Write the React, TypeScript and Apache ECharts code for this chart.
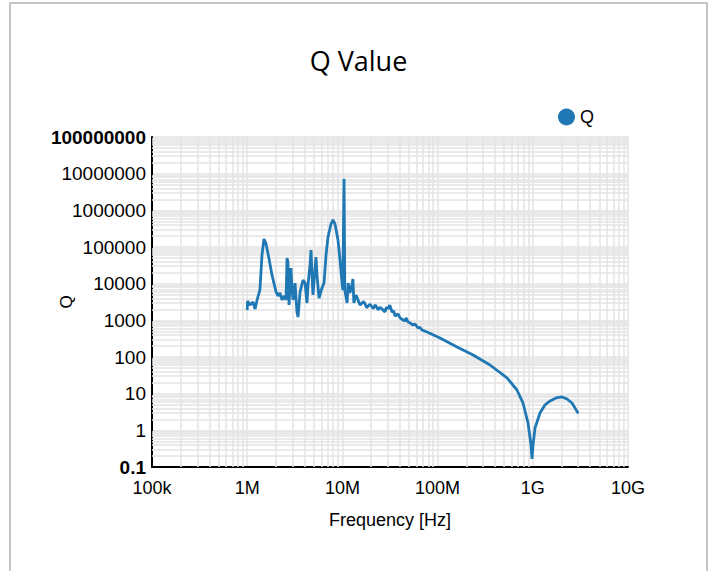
import React, { useEffect, useRef } from "react";
import * as echarts from "echarts";

// Frequency [Hz]
const freqHz: number[] = [
  1.0e6, 1.01e6, 1.07e6, 1.15e6, 1.21e6, 1.27e6, 1.36e6, 1.43e6, 1.5e6, 1.57e6,
  1.69e6, 1.82e6, 2.01e6, 2.11e6, 2.21e6, 2.32e6, 2.44e6, 2.56e6, 2.62e6, 2.68e6,
  2.75e6, 2.88e6, 2.96e6, 3.03e6, 3.18e6, 3.33e6, 3.42e6, 3.59e6, 3.86e6, 4.05e6,
  4.25e6, 4.35e6, 4.57e6, 4.68e6, 4.8e6, 4.91e6, 5.15e6, 5.28e6, 5.41e6, 5.68e6,
  6.1e6, 6.41e6, 6.73e6, 7.06e6, 7.59e6, 7.96e6, 8.36e6, 8.99e6, 9.44e6, 9.91e6,
  1.01e7, 1.04e7, 1.06e7, 1.12e7, 1.15e7, 1.2e7, 1.26e7, 1.29e7, 1.32e7, 1.39e7,
  1.46e7, 1.53e7, 1.61e7, 1.67e7, 1.73e7, 1.8e7, 1.86e7, 1.95e7, 2.05e7, 2.12e7,
  2.2e7, 2.28e7, 2.37e7, 2.48e7, 2.61e7, 2.7e7, 2.8e7, 2.9e7, 3.01e7, 3.15e7,
  3.32e7, 3.45e7, 3.57e7, 3.84e7, 4.03e7, 4.33e7, 4.55e7, 4.66e7, 4.9e7, 5.13e7,
  5.52e7, 5.8e7, 6.22e7, 6.5e7, 6.86e7, 7.74e7, 1.06e8, 1.6e8, 2.36e8, 3.55e8,
  5.36e8, 6.82e8, 7.89e8, 8.91e8, 9.57e8, 9.82e8, 1.005e9, 1.055e9, 1.19e9, 1.34e9,
  1.52e9, 1.75e9, 2.03e9, 2.29e9, 2.58e9, 3.0e9,
];

// Q value
const qValue: number[] = [
  1900, 3370, 2620, 3160, 2040, 3590, 6730, 60500, 165000, 128000,
  50100, 17300, 5930, 4610, 5570, 3590, 4610, 3590, 50100, 39000,
  2620, 26800, 6730, 3590, 10400, 1690, 1230, 5930, 12600, 10400,
  2970, 9200, 32300, 82800, 17300, 4910, 23600, 53400, 17300, 4060,
  7620, 10400, 60500, 187000, 424000, 546000, 424000, 155000, 44300, 10400,
  6730, 7300000, 6730, 2970, 10400, 5570, 9200, 13400, 2970, 4910,
  3590, 2600, 2970, 3300, 2790, 2200, 2460, 2750, 2310, 2100,
  2620, 2350, 1915, 2250, 2040, 1850, 1690, 2300, 2040, 2600,
  1690, 1800, 1315, 1490, 1160, 1020, 960, 1160, 900, 847,
  747, 795, 618, 640, 546, 481, 330, 188, 113, 60.5,
  26.8, 12.6, 5.57, 1.59, 0.4, 0.166, 0.4, 1.16, 2.97, 4.91,
  6.32, 7.63, 8.13, 7.16, 5.57, 2.9,
];

const xTickLabels: string[] = ["100k", "1M", "10M", "100M", "1G", "10G"];
const yTickLabels: string[] = [
  "0.1", "1", "10", "100", "1000", "10000", "100000", "1000000", "10000000", "100000000",
];

const xDecades: number[] = [1e5, 1e6, 1e7, 1e8, 1e9];
const yDecades: number[] = [0.1, 1, 10, 100, 1000, 1e4, 1e5, 1e6, 1e7];
const minorMultipliers: number[] = [2, 3, 4, 5, 6, 7, 8, 9];

const FONT = "'Liberation Sans', Arial, sans-serif";

export default function App() {
  const ref = useRef<HTMLDivElement>(null);

  useEffect(() => {
    if (!ref.current) return;
    const chart = echarts.init(ref.current, null, { renderer: "svg" });

    const gridLines: any[] = [];
    xDecades.forEach((d) =>
      minorMultipliers.forEach((m) => gridLines.push({ xAxis: d * m }))
    );
    yDecades.forEach((d) =>
      minorMultipliers.forEach((m) => gridLines.push({ yAxis: d * m }))
    );

    const seriesData = freqHz.map((f, i) => [f, qValue[i]]);

    chart.setOption({
      animation: false,
      backgroundColor: "#ffffff",
      title: {
        text: "Q Value",
        left: "center",
        top: 42,
        textStyle: {
          fontFamily: "'Open Sans', 'Noto Sans', sans-serif",
          fontSize: 27,
          fontWeight: "normal",
          color: "#000",
        },
      },
      legend: {
        data: [{ name: "Q", icon: "circle" }],
        left: 553,
        top: 103,
        itemWidth: 17,
        itemHeight: 17,
        textStyle: { fontFamily: FONT, fontSize: 18, color: "#000" },
      },
      grid: { left: 152, right: 89, top: 137, bottom: 104 },
      xAxis: {
        type: "log",
        logBase: 10,
        min: 1e5,
        max: 1e10,
        name: "Frequency [Hz]",
        nameLocation: "middle",
        nameGap: 44,
        nameMoveOverlap: false,
        nameTextStyle: { fontFamily: FONT, fontSize: 18, color: "#000" },
        axisLine: { show: true, lineStyle: { color: "#000", width: 2 } },
        axisTick: { show: false },
        axisLabel: {
          fontFamily: FONT,
          fontSize: 18,
          color: "#000",
          margin: 12,
          formatter: (_v: number, i: number) => xTickLabels[i] ?? "",
        },
        splitLine: { show: true, lineStyle: { color: "#e3e3e3", width: 1.5 } },
      },
      yAxis: {
        type: "log",
        logBase: 10,
        min: 0.1,
        max: 1e8,
        name: "Q",
        nameLocation: "middle",
        nameGap: 77,
        nameMoveOverlap: false,
        nameRotate: 90,
        nameTextStyle: { fontFamily: FONT, fontSize: 17, color: "#000" },
        axisLine: { show: true, lineStyle: { color: "#000", width: 2 } },
        axisTick: { show: false },
        axisLabel: {
          fontFamily: FONT,
          fontSize: 19,
          color: "#000",
          margin: 6,
          formatter: (_v: number, i: number) => {
            const t = yTickLabels[i] ?? "";
            return i === 0 || i === yTickLabels.length - 1 ? `{b|${t}}` : t;
          },
          rich: {
            b: { fontFamily: FONT, fontSize: 19, fontWeight: "bold", color: "#000" },
          },
        },
        splitLine: { show: true, lineStyle: { color: "#e3e3e3", width: 1.5 } },
      },
      series: [
        {
          name: "grid",
          type: "line",
          data: [],
          z: 1,
          silent: true,
          markLine: {
            z: 1,
            silent: true,
            symbol: "none",
            label: { show: false },
            animation: false,
            lineStyle: { color: "#e3e3e3", width: 1.5, type: "solid" },
            emphasis: { disabled: true },
            data: gridLines,
          },
        },
        {
          name: "Q",
          type: "line",
          data: seriesData,
          showSymbol: false,
          symbol: "circle",
          z: 10,
          color: "#1f77b4",
          lineStyle: { color: "#1f77b4", width: 2.8 },
        },
      ],
    });

    return () => chart.dispose();
  }, []);

  return (
    <div style={{ position: "fixed", left: 0, top: 0, width: 717, height: 571, background: "#fff" }}>
      <div
        ref={ref}
        style={{ position: "absolute", left: 0, top: 0, width: 717, height: 571 }}
      />
      <div
        style={{
          position: "absolute",
          left: 9,
          top: 2,
          width: 695,
          height: 620,
          border: "2px solid #c4c4c4",
          pointerEvents: "none",
        }}
      />
    </div>
  );
}
